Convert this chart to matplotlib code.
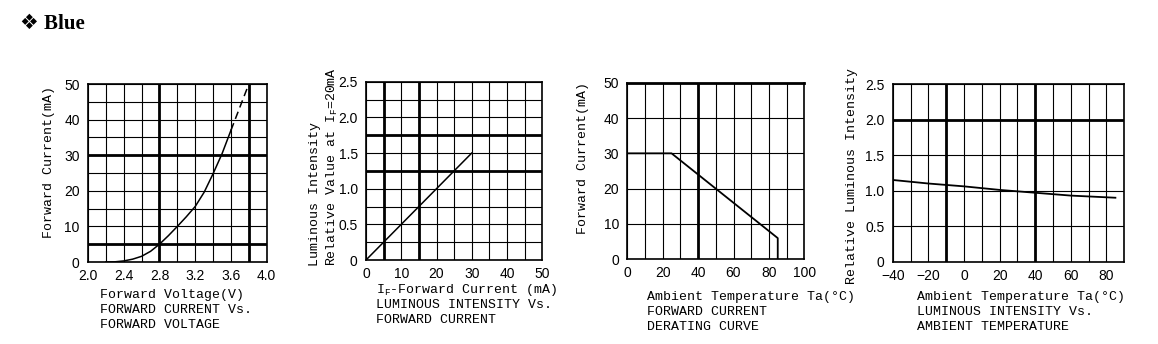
import numpy as np
import matplotlib
matplotlib.use("Agg")
import matplotlib.pyplot as plt

# ---- data ----
VF_V      = [2.2, 2.3, 2.4, 2.5, 2.6, 2.7, 2.8, 2.9, 3.0, 3.1, 3.2, 3.3, 3.4, 3.5, 3.6]
VF_I      = [0.0, 0.05, 0.3, 0.8, 1.6, 3.0, 5.0, 7.4, 10.0, 12.7, 15.6, 19.6, 24.8, 30.4, 37.0]
VF_DASH_V = [3.6, 3.8]
VF_DASH_I = [37.0, 50.0]

LI_IF  = [0, 30]
LI_REL = [0.0, 1.5]

DR_TA = [0, 25, 85, 85]
DR_IF = [30, 30, 6, 0]

TA_T   = [-40, -20, 0, 20, 40, 60, 85]
TA_REL = [1.15, 1.10, 1.06, 1.01, 0.97, 0.93, 0.90]

MONO = ["Liberation Mono", "DejaVu Sans Mono"]
TICKF = "Liberation Sans"
THIN, THICK = 0.8, 2.0

fig = plt.figure(figsize=(11.58, 3.44), dpi=100)
W, H = 1158, 344


def box(l, t, r, b):
    return [l / W, (H - b) / H, (r - l) / W, (b - t) / H]


def grid_axes(rect, xlim, ylim, xstep, ystep, xthick, ythick, xticks, yticks,
              xfmt, yfmt, thick_top=False):
    ax = fig.add_axes(rect)
    ax.set_xlim(*xlim)
    ax.set_ylim(*ylim)
    for v in np.arange(xlim[0], xlim[1] + 1e-9, xstep):
        ax.axvline(v, color="black", lw=THIN, zorder=1)
    for v in np.arange(ylim[0], ylim[1] + 1e-9, ystep):
        ax.axhline(v, color="black", lw=THIN, zorder=1)
    for v in xthick:
        ax.axvline(v, color="black", lw=THICK, zorder=1)
    for v in ythick:
        ax.axhline(v, color="black", lw=THICK, zorder=1)
    ax.set_xticks(xticks)
    ax.set_yticks(yticks)
    ax.set_xticklabels([xfmt(v) for v in xticks], family=TICKF, fontsize=10)
    ax.set_yticklabels([yfmt(v) for v in yticks], family=TICKF, fontsize=10)
    ax.tick_params(axis="x", length=0, pad=5)
    ax.tick_params(axis="y", length=0, pad=6)
    for s in ax.spines.values():
        s.set_linewidth(1.2)
    if thick_top:
        ax.spines["top"].set_linewidth(THICK)
    return ax


def caption(x, y, lines):
    for i, s in enumerate(lines):
        fig.text(x / W, 1 - (y + i * 15) / H, s, family=MONO, fontsize=9.5,
                 ha="left", va="center")


def ylab(x, y, s, va="center"):
    fig.text(x / W, 1 - y / H, s, family=MONO, fontsize=9.5, rotation=90,
             ha="center", va=va)


# title
fig.text(20 / W, 1 - 24 / H, "❖ Blue", family=["Liberation Serif", "DejaVu Sans"],
         fontsize=15, fontweight="bold", ha="left", va="center")

# ---- panel 1: forward current vs forward voltage ----
ax1 = grid_axes(box(88, 84, 266.7, 262), (2.0, 4.0), (0, 50), 0.2, 5,
                [2.8, 3.8], [30, 5], [2.0, 2.4, 2.8, 3.2, 3.6, 4.0],
                [0, 10, 20, 30, 40, 50], lambda v: f"{v:.1f}", lambda v: f"{v:d}")
ax1.plot(VF_V, VF_I, color="black", lw=1.1, zorder=3)
ax1.plot(VF_DASH_V, VF_DASH_I, color="black", lw=1.1, ls=(0, (5, 3)), zorder=3)
ylab(49, 162, "Forward Current(mA)")
caption(100, 295, ["Forward Voltage(V)", "FORWARD CURRENT Vs.", "FORWARD VOLTAGE"])

# ---- panel 2: luminous intensity vs forward current ----
ax2 = grid_axes(box(366, 81.7, 542.3, 260), (0, 50), (0, 2.5), 5, 0.25,
                [5, 15], [1.75, 1.25], [0, 10, 20, 30, 40, 50],
                [0, 0.5, 1.0, 1.5, 2.0, 2.5], lambda v: f"{v:d}",
                lambda v: "0" if v == 0 else f"{v:.1f}")
ax2.plot(LI_IF, LI_REL, color="black", lw=1.1, zorder=3)
ylab(315, 266, "Luminous Intensity", va="bottom")
ylab(332, 266, "Relative Value at I$_\\mathregular{F}$=20mA", va="bottom")
caption(376, 290, ["I$_\\mathregular{F}$-Forward Current (mA)",
                   "LUMINOUS INTENSITY Vs.", "FORWARD CURRENT"])

# ---- panel 3: derating curve ----
ax3 = grid_axes(box(627.3, 82.7, 804.3, 259.3), (0, 100), (0, 50), 10, 10,
                [40], [], [0, 20, 40, 60, 80, 100], [0, 10, 20, 30, 40, 50],
                lambda v: f"{v:d}", lambda v: f"{v:d}", thick_top=True)
ax3.plot(DR_TA, DR_IF, color="black", lw=1.3, zorder=3)
ylab(583, 158, "Forward Current(mA)")
caption(647, 297, ["Ambient Temperature Ta(°C)", "FORWARD CURRENT", "DERATING CURVE"])

# ---- panel 4: luminous intensity vs ambient temperature ----
ax4 = grid_axes(box(892.7, 84, 1124.3, 261.7), (-40, 90), (0, 2.5), 10, 0.5,
                [-10, 40], [2.0], [-40, -20, 0, 20, 40, 60, 80],
                [0, 0.5, 1.0, 1.5, 2.0, 2.5], lambda v: f"{v:d}".replace("-", "\u2212"),
                lambda v: "0" if v == 0 else f"{v:.1f}")
ax4.plot(TA_T, TA_REL, color="black", lw=1.3, zorder=3)
ylab(852, 176, "Relative Luminous Intensity")
caption(917, 297, ["Ambient Temperature Ta(°C)", "LUMINOUS INTENSITY Vs.",
                   "AMBIENT TEMPERATURE"])

fig.savefig("out.png", dpi=100)
